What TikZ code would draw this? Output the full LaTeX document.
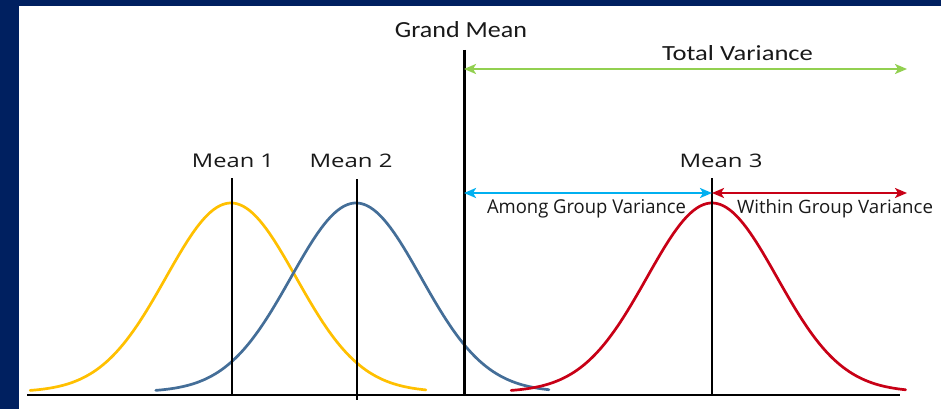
\documentclass[tikz,border=0pt]{standalone}
\usepackage{fontspec}
\setmainfont{Carlito}
\newfontfamily\labfont{Open Sans}
\usetikzlibrary{arrows.meta}
\definecolor{navybg}{RGB}{0,32,96}
\definecolor{goldc}{RGB}{255,192,0}
\definecolor{bluec}{RGB}{68,110,152}
\definecolor{redc}{RGB}{200,0,22}
\definecolor{greenc}{RGB}{146,208,80}
\definecolor{cyanc}{RGB}{0,176,240}
\definecolor{textc}{RGB}{25,25,25}
\tikzset{
  lbl/.style={anchor=base, inner sep=0pt, text=textc},
  meanline/.style={line width=1.6pt, black},
  bell/.style={line width=2.7pt, line cap=round},
  varrow/.style={line width=2.4pt, {Stealth[length=12pt,width=10pt,inset=3pt]}-{Stealth[length=12pt,width=10pt,inset=3pt]}}
}
\begin{document}
\begin{tikzpicture}[x=1pt,y=-1pt]
\fill[navybg] (0,0) rectangle (941,409);
\fill[white] (19,6) rectangle (941,409);
\useasboundingbox (0,0) rectangle (941,409);

% bell curves
\draw[bell, goldc] plot[domain=-3.09:3.00, samples=120] ({231+65*\x}, {392-189*exp(-0.5*\x*\x)});
\draw[bell, bluec] plot[domain=-3.08:2.97, samples=120] ({356+65*\x}, {392-189*exp(-0.5*\x*\x)});
\draw[bell, redc] plot[domain=-3.09:2.98, samples=120] ({712+65*\x}, {392-189*exp(-0.5*\x*\x)});

% axis
\coordinate (axL) at (27,395);
\coordinate (axR) at (900,395);
\draw[line width=1.8pt, black] (axL) -- (axR);

% mean lines
\coordinate (m1t) at (232,178); \coordinate (m1b) at (232,395);
\coordinate (m2t) at (357,179); \coordinate (m2b) at (357,400);
\coordinate (m3t) at (712,178); \coordinate (m3b) at (712,395);
\coordinate (gmt) at (464,50);  \coordinate (gmb) at (464,395);
\draw[meanline] (m1t) -- (m1b);
\draw[meanline] (m2t) -- (m2b);
\draw[meanline] (m3t) -- (m3b);
\draw[line width=3pt, black] (gmt) -- (gmb);

% arrows
\coordinate (tvL) at (464,69);  \coordinate (tvR) at (907,69);
\coordinate (agL) at (464,193); \coordinate (agR) at (712,193);
\coordinate (wgL) at (712,193); \coordinate (wgR) at (907,193);
\draw[varrow, greenc] (tvL) -- (tvR);
\draw[varrow, cyanc] (agL) -- (agR);
\draw[varrow, redc] (wgL) -- (wgR);

% labels
\node[lbl] (gm) at (461,38) {\resizebox{132pt}{16pt}{Grand Mean}};
\node[lbl] (tv) at (737.5,61) {\resizebox{151pt}{15pt}{Total Variance}};
\node[lbl] (mean1) at (233,167) {\resizebox{82pt}{13.5pt}{\labfont Mean 1}};
\node[lbl] (mean2) at (351,167) {\resizebox{83pt}{13.5pt}{\labfont Mean 2}};
\node[lbl] (mean3) at (721,167) {\resizebox{83pt}{13.5pt}{\labfont Mean 3}};
\node[lbl] (ag) at (586.5,213.5) {\resizebox{199pt}{14pt}{\labfont Among Group Variance}};
\node[lbl] (wg) at (835,213.5) {\resizebox{196pt}{14pt}{\labfont Within Group Variance}};
\end{tikzpicture}
\end{document}
